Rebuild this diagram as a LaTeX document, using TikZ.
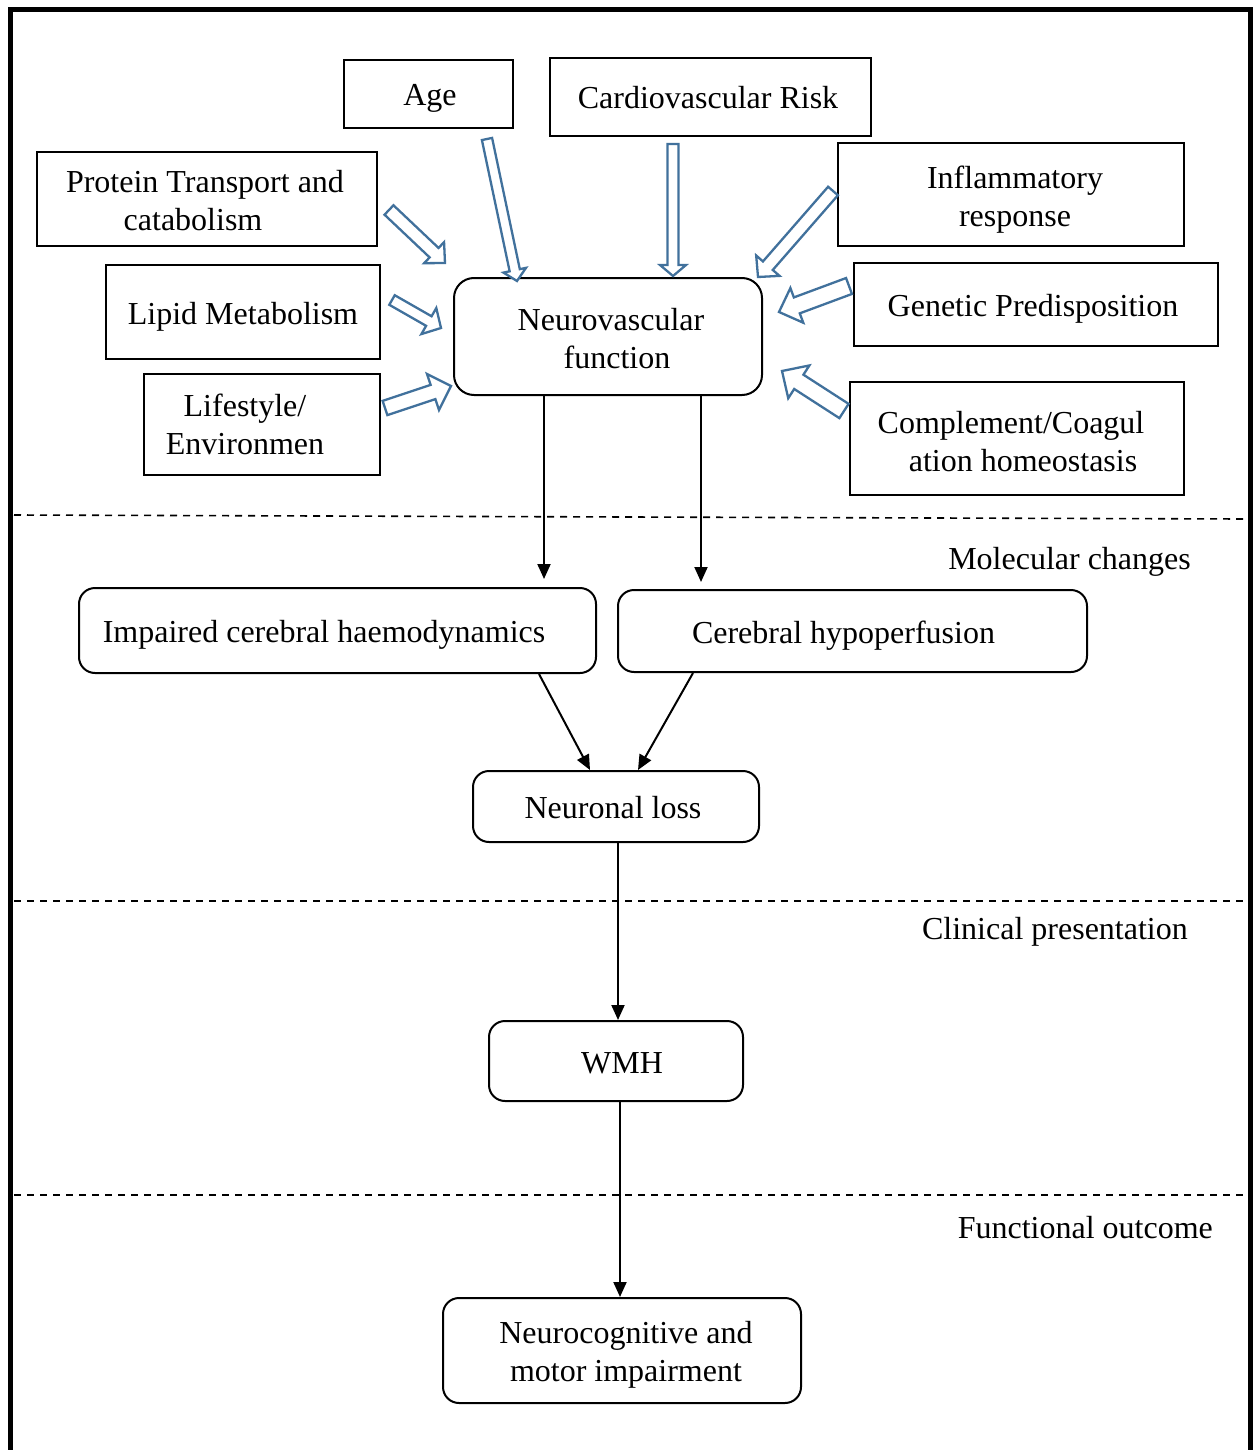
\documentclass[tikz,border=0pt]{standalone}
\usepackage{fontspec}
\setmainfont{Liberation Serif}
\usetikzlibrary{arrows.meta,calc}
\definecolor{barblue}{RGB}{65,113,156}
\newcommand\fs{\fontsize{32}{38}\selectfont}
\tikzset{
  box/.style={draw, line width=2pt, inner sep=0pt, align=center, font=\fs},
  rbox/.style={box, rounded corners=16pt},
  one/.style={text height=31pt, text depth=7pt},
  lbl/.style={font=\fs, inner sep=0pt, anchor=base east},
  arr/.style={line width=2pt, -{Triangle[length=15pt,width=13pt]}},
  sep/.style={line width=1.6pt, dash pattern=on 7pt off 6pt},
  barrow/.style={draw=barblue, line width=2.3pt, line join=miter, fill=white},
}
% #1 tail, #2 tip, #3 half shaft width, #4 half head width, #5 head length
\newcommand\blkarrow[5]{%
  \draw[barrow] let \p1=($(#2)-(#1)$), \n1={veclen(\x1,\y1)}, \n2={atan2(\y1,\x1)} in
    [shift={(#1)}, rotate=\n2]
    (0,-#3) -- ({\n1-#5},-#3) -- ({\n1-#5},-#4) -- ({\n1},0) -- ({\n1-#5},#4) -- ({\n1-#5},#3) -- (0,#3) -- cycle;
}
\begin{document}
\begin{tikzpicture}[x=1pt,y=-1pt]
\useasboundingbox (0,0) rectangle (1258,1450);
\fill[white] (0,0) rectangle (1258,1450);

% outer frame
\coordinate (frBL) at (10,1452);
\coordinate (frTL) at (10,10);
\coordinate (frTR) at (1250,10);
\coordinate (frBR) at (1250,1452);
\draw[line width=5pt, line join=miter] (frBL) -- (frTL) -- (frTR) -- (frBR);

% factor boxes
\node[box, one, minimum width=169pt, minimum height=68pt] (age) at (428.5,94) {\hspace*{3pt}Age};
\node[box, one, minimum width=321pt, minimum height=78pt] (cardio) at (710.5,97) {Cardiovascular Risk\hspace*{5pt}};
\node[box, text height=64pt, minimum width=340pt, minimum height=94pt] (protein) at (207,199) {Protein Transport and\hspace*{4pt}\\catabolism\hspace*{28pt}};
\node[box, one, minimum width=274pt, minimum height=94pt] (lipid) at (243,312) {Lipid Metabolism};
\node[box, minimum width=236pt, minimum height=101pt] (life) at (262,424.5) {Lifestyle/\hspace*{34pt}\\Environmen\hspace*{34pt}};
\node[box, text height=70pt, minimum width=346pt, minimum height=103pt] (inflam) at (1011,194.5) {\hspace*{8pt}Inflammatory\\\hspace*{8pt}response};
\node[box, one, minimum width=364pt, minimum height=83pt] (genetic) at (1036,304.5) {Genetic Predisposition\hspace*{6pt}};
\node[box, text height=66pt, minimum width=334pt, minimum height=113pt] (compl) at (1017,438.5) {Complement/Coagul\hspace*{12pt}\\\hspace*{12pt}ation homeostasis};

% central and pathway boxes
\node[rbox, rounded corners=20pt, text height=64pt, minimum width=308pt, minimum height=117pt] (neuro) at (608,336.5) {\hspace*{6pt}Neurovascular\\\hspace*{18pt}function};
\node[rbox, one, minimum width=517pt, minimum height=85pt] (imp) at (337.5,630.5) {Impaired cerebral haemodynamics\hspace*{27pt}};
\node[rbox, one, minimum width=469pt, minimum height=82pt] (hyp) at (852.5,631) {Cerebral hypoperfusion\hspace*{18pt}};
\node[rbox, one, minimum width=286pt, minimum height=71pt] (nl) at (616,806.5) {Neuronal loss\hspace*{6pt}};
\node[rbox, one, minimum width=254pt, minimum height=80pt] (wmh) at (616,1061) {\hspace*{12pt}WMH};
\node[rbox, text height=68pt, minimum width=358pt, minimum height=105pt] (nc) at (622,1350.5) {\hspace*{8pt}Neurocognitive and\\\hspace*{8pt}motor impairment};

% block arrows (tail -> tip)
\coordinate (ageT) at (487,139);     \coordinate (ageP) at (517,281);
\coordinate (cardT) at (673,144);    \coordinate (cardP) at (673,276);
\coordinate (infT) at (833,191);     \coordinate (infP) at (758,277);
\coordinate (protT) at (389,210);    \coordinate (protP) at (445,263);
\coordinate (lipT) at (392,300);     \coordinate (lipP) at (441,328);
\coordinate (lifeT) at (385,408);    \coordinate (lifeP) at (451,386);
\coordinate (genT) at (849,286);     \coordinate (genP) at (779,312);
\coordinate (comT) at (844,411);     \coordinate (comP) at (782,371);
\blkarrow{ageT}{ageP}{5.2}{11.5}{11}
\blkarrow{cardT}{cardP}{5.5}{13}{11}
\blkarrow{infT}{infP}{6.5}{15.5}{15}
\blkarrow{protT}{protP}{6.5}{14.5}{15}
\blkarrow{lipT}{lipP}{5.5}{15}{14}
\blkarrow{lifeT}{lifeP}{7.5}{19}{19}
\blkarrow{genT}{genP}{8.5}{18.5}{19}
\blkarrow{comT}{comP}{8.5}{19.5}{20}

% dashed separators
\coordinate (d1a) at (14,515);  \coordinate (d1b) at (1245,519);
\coordinate (d2a) at (14,901);  \coordinate (d2b) at (1245,901);
\coordinate (d3a) at (14,1195); \coordinate (d3b) at (1245,1195);
\draw[sep] (d1a) -- (d1b);
\draw[sep] (d2a) -- (d2b);
\draw[sep] (d3a) -- (d3b);

% section labels
\node[lbl] (lmol) at (1191,569) {Molecular changes};
\node[lbl] (lcli) at (1188,939) {Clinical presentation};
\node[lbl] (lfun) at (1213,1238) {Functional outcome};

% black arrows
\draw[arr, shorten >=8pt] ([xshift=-64pt]neuro.south) -- ([xshift=-64pt]neuro.south |- imp.north);
\draw[arr, shorten >=7pt] ([xshift=93pt]neuro.south) -- ([xshift=93pt]neuro.south |- hyp.north);
\draw[arr] ([xshift=201.5pt]imp.south) -- ([xshift=-26pt]nl.north);
\draw[arr] ([xshift=-159.5pt]hyp.south) -- ([xshift=22pt]nl.north);
\draw[arr] ([xshift=2pt]nl.south) -- ([xshift=2pt]nl.south |- wmh.north);
\draw[arr] ([xshift=4pt]wmh.south) -- ([xshift=4pt]wmh.south |- nc.north);
\end{tikzpicture}
\end{document}
